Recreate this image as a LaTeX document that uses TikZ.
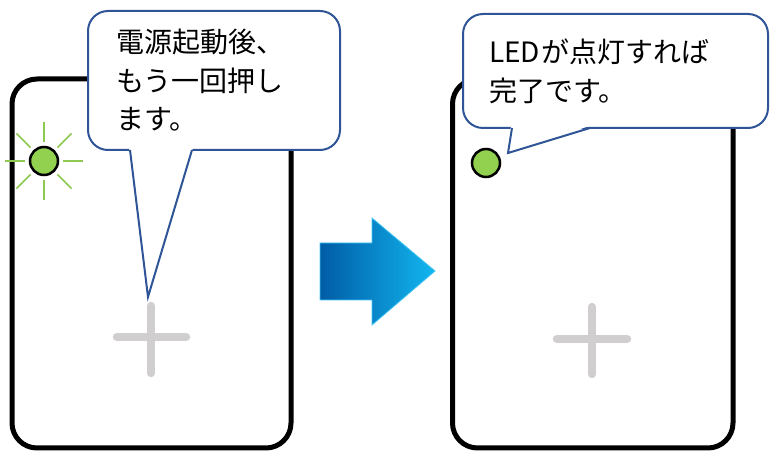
\documentclass[tikz,border=0pt]{standalone}
\usepackage{fontspec}
\usetikzlibrary{calc}
\newfontfamily\jpfont{Noto Sans CJK JP}
\definecolor{calloutblue}{HTML}{2F5597}
\definecolor{ledgreen}{HTML}{92D050}
\definecolor{raygreen}{HTML}{8CC852}
\definecolor{plusgray}{HTML}{D0CECE}
\definecolor{arrowdark}{RGB}{0,92,166}
\definecolor{arrowlight}{RGB}{18,182,240}
\begin{document}
\begin{tikzpicture}[x=1pt,y=-1pt,
  device/.style={draw=black,line width=5pt,rounded corners=25pt},
  callout/.style={draw=calloutblue,line width=2pt,fill=white,rounded corners=20pt},
  pointer/.style={draw=calloutblue,line width=2pt,line join=miter},
  led/.style={circle,draw=black,line width=2.5pt,fill=ledgreen,minimum size=28pt,inner sep=0pt},
  ray/.style={draw=raygreen,line width=1.5pt},
  plusbar/.style={draw=plusgray,line width=8.5pt,line cap=round},
  txt/.style={font=\jpfont\fontsize{28pt}{38pt}\selectfont,anchor=base west,inner sep=0pt,text=black}]
\useasboundingbox (0,0) rectangle (772,454);
% devices
\draw[device] (12,79) rectangle (291,448);
\draw[device] (452.5,79) rectangle (733,448);
% plus signs
\coordinate (p1t) at (151,306); \coordinate (p1b) at (151,373);
\coordinate (p1l) at (117,337); \coordinate (p1r) at (186,337);
\draw[plusbar] (p1t) -- (p1b);
\draw[plusbar] (p1l) -- (p1r);
\coordinate (p2t) at (592,307); \coordinate (p2b) at (592,374);
\coordinate (p2l) at (557,339); \coordinate (p2r) at (627,339);
\draw[plusbar] (p2t) -- (p2b);
\draw[plusbar] (p2l) -- (p2r);
% LEDs
\coordinate (c1) at (44,161);
\foreach \a in {0,45,...,315}{
  \draw[ray] ($(c1)+(\a:19)$) -- ($(c1)+(\a:39)$);
}
\node[led] (led1) at (c1) {};
\node[led] (led2) at (486,163) {};
% arrow
\shade[left color=arrowdark,right color=arrowlight,draw=arrowlight!80!white,line width=0.8pt]
  (320,243) -- (372,243) -- (372,218) -- (435,271) -- (372,325) -- (372,300) -- (320,300) -- cycle;
% left callout
\draw[callout] (88,11) rectangle (340,150);
\coordinate (tip1) at (148,297);
\fill[white] (129,147.5) -- (tip1) -- (193,147.5) -- cycle;
\draw[pointer] (130,150) -- (tip1) -- (192,150);
\node[txt] (t1a) at (116,53) {電源起動後、};
\node[txt] (t1b) at (116,92) {もう一回押し};
\node[txt] (t1c) at (116,130) {ます。};
% right callout
\draw[callout] (463,14) rectangle (768,128);
\coordinate (tip2) at (508,153);
\fill[white] (511,125.5) -- (tip2) -- (591,125.5) -- cycle;
\draw[pointer] (512,128) -- (tip2) -- (590,128);
\node[txt] (t2a) at (489,63) {LED\hspace{1.5pt}が点灯すれば};
\node[txt] (t2b) at (489,102) {完了です。};
\end{tikzpicture}
\end{document}
